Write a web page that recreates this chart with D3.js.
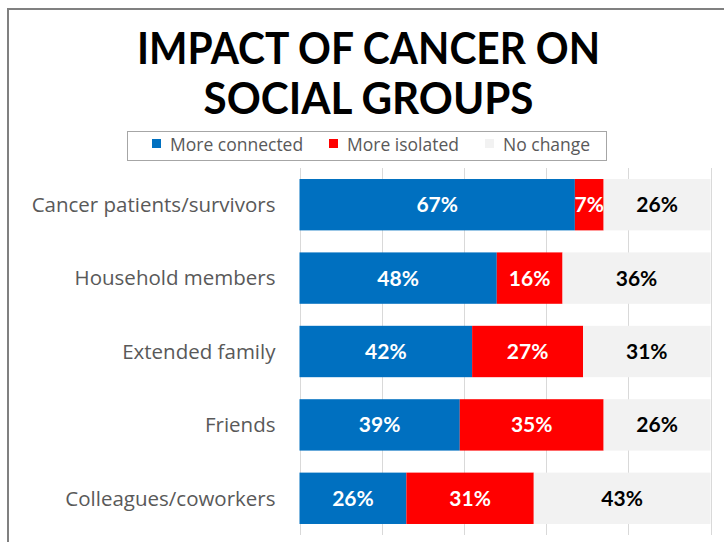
<!DOCTYPE html>
<html>
<head>
<meta charset="utf-8">
<script src="https://cdn.jsdelivr.net/npm/d3@7"></script>
<style>
  html, body { margin: 0; padding: 0; background: #fff; }
  svg { display: block; }
</style>
</head>
<body>
<svg id="chart" width="724" height="542"></svg>
<script>
// Survey results: share of respondents per social group (percent)
const categories = [
  "Cancer patients/survivors",
  "Household members",
  "Extended family",
  "Friends",
  "Colleagues/coworkers"
];
const seriesNames = ["More connected", "More isolated", "No change"];
const moreConnected = [67, 48, 42, 39, 26];
const moreIsolated  = [7, 16, 27, 35, 31];
const noChange      = [26, 36, 31, 26, 43];
const xTicks = [0, 20, 40, 60, 80, 100];
const titleLines = ["IMPACT OF CANCER ON", "SOCIAL GROUPS"];

const colors = ["#0070C0", "#FF0000", "#F2F2F2"];
const labelColors = ["#FFFFFF", "#FFFFFF", "#000000"];
const TITLE_FONT = "Lato, 'Open Sans', sans-serif";
const FONT = "'Open Sans', Lato, sans-serif";

const svg = d3.select("#chart");

// Outer frame (top and left edges visible)
svg.append("path")
  .attr("d", "M8,542 V9 H724")
  .attr("fill", "none")
  .attr("stroke", "#808080")
  .attr("stroke-width", 2);

// Title
const titleY = [63.5, 113.5];
const titleW = [463, 330];
titleLines.forEach((t, i) => {
  svg.append("text")
    .attr("x", 368.5)
    .attr("y", titleY[i])
    .attr("text-anchor", "middle")
    .attr("font-family", TITLE_FONT)
    .attr("font-weight", 700)
    .attr("font-size", 43)
    .attr("fill", "#000")
    .attr("textLength", titleW[i])
    .attr("lengthAdjust", "spacingAndGlyphs")
    .text(t);
});

// Legend
const legend = svg.append("g");
legend.append("rect")
  .attr("x", 127.5).attr("y", 131.5)
  .attr("width", 479).attr("height", 29)
  .attr("fill", "#fff")
  .attr("stroke", "#A6A6A6")
  .attr("stroke-width", 1);
const legendX = [152, 329, 485];
seriesNames.forEach((name, i) => {
  legend.append("rect")
    .attr("x", legendX[i]).attr("y", 139)
    .attr("width", 9).attr("height", 9)
    .attr("fill", colors[i]);
  legend.append("text")
    .attr("x", legendX[i] + 18)
    .attr("y", 150.5)
    .attr("font-family", FONT)
    .attr("font-size", 17.5)
    .attr("fill", "#595959")
    .text(name);
});

// Scales
const x = d3.scaleLinear().domain([0, 100]).range([299.5, 710.5]);
const y = d3.scaleBand().domain(categories).range([168, 535])
  .paddingInner(0.3).paddingOuter(0.15);

// Gridlines
svg.append("g")
  .selectAll("line")
  .data(xTicks)
  .join("line")
  .attr("x1", d => Math.round(x(d)) + 0.5)
  .attr("x2", d => Math.round(x(d)) + 0.5)
  .attr("y1", 168).attr("y2", 535)
  .attr("stroke", "#D9D9D9")
  .attr("stroke-width", 1);

// Stacked data
const rows = categories.map((c, i) => ({
  category: c,
  "More connected": moreConnected[i],
  "More isolated": moreIsolated[i],
  "No change": noChange[i]
}));
const stack = d3.stack().keys(seriesNames)(rows);

const layers = svg.append("g")
  .selectAll("g")
  .data(stack)
  .join("g")
  .attr("fill", (d, i) => colors[i]);

layers.selectAll("rect")
  .data(d => d)
  .join("rect")
  .attr("x", d => x(d[0]))
  .attr("y", d => y(d.data.category))
  .attr("width", d => x(d[1]) - x(d[0]))
  .attr("height", y.bandwidth());

// Value labels
stack.forEach((layer, li) => {
  svg.append("g")
    .selectAll("text")
    .data(layer)
    .join("text")
    .attr("x", d => (x(d[0]) + x(d[1])) / 2)
    .attr("y", d => y(d.data.category) + y.bandwidth() / 2)
    .attr("dy", "0.36em")
    .attr("text-anchor", "middle")
    .attr("font-family", TITLE_FONT)
    .attr("font-weight", 700)
    .attr("font-size", 21)
    .attr("fill", labelColors[li])
    .text(d => (d[1] - d[0]) + "%");
});

// Category axis
const yAxis = svg.append("g")
  .attr("transform", `translate(${x(0) - 24},0)`)
  .call(d3.axisLeft(y).tickSize(0).tickPadding(0));
yAxis.select(".domain").remove();
yAxis.selectAll("text")
  .attr("font-family", FONT)
  .attr("font-size", 20.5)
  .attr("fill", "#595959")
  .attr("dy", "0.36em");
</script>
</body>
</html>
